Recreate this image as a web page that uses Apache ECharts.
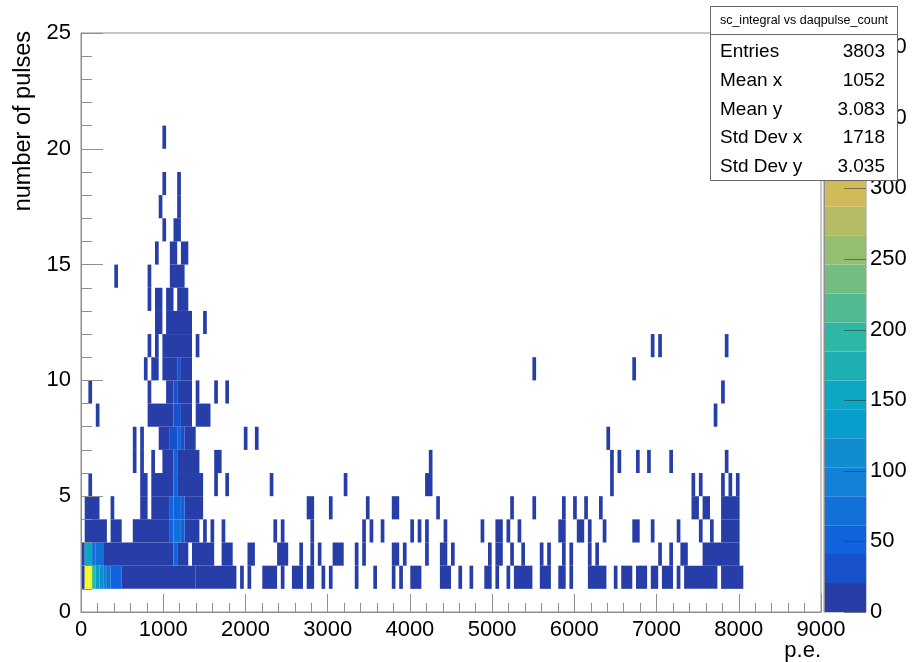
<!DOCTYPE html>
<html>
<head>
<meta charset="utf-8">
<script src="https://cdn.jsdelivr.net/npm/echarts@6/dist/echarts.min.js"></script>
<style>
  html, body { margin: 0; padding: 0; background: #fff; }
  #chart { width: 914px; height: 662px; }
</style>
</head>
<body>
<div id="chart"></div>
<script>
// 2D histogram: sc_integral (p.e.) vs daqpulse_count, drawn COLZ style.
const binWidth = 45;      // p.e. per x bin (0..9000, 200 bins)
const zMax = 410;         // highest bin content, top of the colour scale
const nContours = 20;

const xTickValues = [0, 1000, 2000, 3000, 4000, 5000, 6000, 7000, 8000, 9000];
const yTickValues = [0, 5, 10, 15, 20, 25];
const zTickValues = [0, 50, 100, 150, 200, 250, 300, 350, 400];

// Each row is one pulse count; entries are [firstBin, lastBin, entries per bin].
const row1 = [[0,0,12],[1,1,410],[2,2,398],[3,3,195],[4,4,140],[5,5,112],[6,6,90],[7,7,72],[8,10,50],
  [11,30,12],[31,41,4],[43,43,1],[45,45,1],[49,52,2],[54,54,1],[57,59,2],[61,62,2],[65,65,1],[67,67,1],
  [74,74,1],[79,79,1],[84,84,1],[86,86,1],[89,91,2],[97,99,2],[102,102,1],[105,105,1],[109,110,1],
  [112,112,1],[115,115,1],[117,121,2],[124,126,2],[129,130,1],[132,132,1],[137,141,2],[144,144,1],
  [146,148,2],[150,152,2],[154,155,1],[157,159,2],[161,161,1],[163,171,2],[173,178,3]];
const row2 = [[0,0,10],[1,2,160],[3,3,75],[4,5,62],[6,24,12],[25,25,50],[26,28,12],[30,35,6],[38,40,2],
  [45,46,2],[53,55,2],[59,59,1],[62,62,1],[64,64,1],[68,70,2],[74,74,1],[76,76,1],[84,85,2],[87,87,1],
  [93,93,1],[97,98,2],[100,100,1],[110,110,1],[112,113,1],[116,116,1],[119,119,1],[124,124,1],
  [126,126,1],[130,130,1],[132,132,1],[137,137,1],[139,139,1],[156,156,1],[159,159,1],[162,163,1],
  [168,177,3]];
const row3 = [[1,6,8],[8,10,6],[14,23,10],[24,24,45],[25,26,62],[27,27,45],[28,31,10],[33,33,2],
  [35,35,1],[38,38,1],[52,52,1],[54,54,1],[62,62,1],[76,76,1],[78,78,1],[81,81,1],[89,89,1],[91,91,1],
  [93,93,1],[98,98,1],[108,108,1],[112,113,1],[115,115,1],[118,118,1],[129,130,1],[134,135,1],
  [137,137,1],[141,141,1],[149,150,1],[154,154,1],[161,161,1],[167,167,1],[170,170,1],[173,177,3]];
const row4 = [[1,4,4],[8,8,1],[16,17,4],[19,23,10],[24,24,42],[25,26,60],[27,27,42],[28,32,8],
  [61,62,1],[67,67,1],[77,77,1],[84,85,1],[96,96,1],[116,116,1],[122,122,1],[130,130,1],[133,133,1],
  [136,136,1],[140,140,1],[165,166,1],[168,169,1],[173,177,2]];
const row5 = [[2,2,1],[16,17,3],[19,24,8],[25,25,45],[26,32,8],[36,36,1],[39,39,1],[51,51,1],[71,71,1],
  [93,94,1],[143,143,1],[165,165,1],[167,167,1],[173,173,1],[175,175,1],[177,177,1]];
const row6 = [[14,14,1],[16,16,1],[19,19,1],[22,24,6],[25,25,48],[26,31,6],[36,37,1],[94,94,1],
  [143,143,1],[145,145,1],[150,150,1],[153,153,1],[159,159,1],[174,174,1]];
const row7 = [[14,14,1],[16,16,1],[21,23,5],[24,25,35],[26,26,50],[27,27,35],[28,30,5],[44,44,1],
  [47,47,1],[142,142,1]];
const row8 = [[4,4,1],[18,24,5],[25,26,30],[27,29,5],[31,34,2],[171,171,1]];
const row9 = [[2,2,1],[18,18,1],[23,24,5],[25,25,28],[26,29,5],[31,31,1],[36,36,1],[39,39,1],[173,173,1]];
const row10 = [[17,17,1],[19,20,2],[22,25,5],[26,26,25],[27,29,5],[122,122,1],[149,149,1]];
const row11 = [[18,18,1],[20,20,1],[22,29,4],[31,31,1],[154,154,1],[156,156,1],[174,174,1]];
const row12 = [[20,21,2],[23,29,3],[33,33,1]];
const row13 = [[18,18,1],[20,21,1],[23,24,2],[26,28,2]];
const row14 = [[9,9,1],[18,18,1],[24,27,2]];
const row15 = [[20,20,1],[24,25,1],[27,28,1]];
const row16 = [[22,22,1],[25,26,1]];
const row17 = [[21,21,1],[26,26,1]];
const row18 = [[22,22,1],[26,26,1]];
const row20 = [[22,22,1]];

const rowsByPulses = [[1,row1],[2,row2],[3,row3],[4,row4],[5,row5],[6,row6],[7,row7],[8,row8],
  [9,row9],[10,row10],[11,row11],[12,row12],[13,row13],[14,row14],[15,row15],[16,row16],
  [17,row17],[18,row18],[20,row20]];

// Statistics box contents
const statsTitle = 'sc_integral vs daqpulse_count';
const statsNames = ['Entries', 'Mean x', 'Mean y', 'Std Dev x', 'Std Dev y'];
const statsValues = ['3803', '1052', '3.083', '1718', '3.035'];

// ---- palette (ROOT "bird") ----
const birdR = [0.2082, 0.0592, 0.0780, 0.0232, 0.1802, 0.5301, 0.8186, 0.9956, 0.9764];
const birdG = [0.1664, 0.3599, 0.5041, 0.6419, 0.7178, 0.7492, 0.7328, 0.7862, 0.9832];
const birdB = [0.5293, 0.8684, 0.8385, 0.7914, 0.6425, 0.4662, 0.3499, 0.1968, 0.0539];
function birdColor(f) {
  const s = Math.min(7, Math.floor(f * 8));
  const t = f * 8 - s;
  const c = (a) => Math.round(255 * (a[s] + (a[s + 1] - a[s]) * t));
  return 'rgb(' + c(birdR) + ',' + c(birdG) + ',' + c(birdB) + ')';
}
const contourColors = [];
for (let k = 0; k < nContours; k++) {
  const idx = Math.floor((k + 0.99) * 255 / nContours);
  contourColors.push(birdColor(Math.min(1, idx / 254)));
}
const step = zMax / nContours;
const pieces = contourColors.map((color, k) => (
  k === nContours - 1 ? { gte: k * step, lte: zMax + 1, color } : { gte: k * step, lt: (k + 1) * step, color }
));
const colorBands = contourColors.map((color, k) => [k * step, (k + 1) * step, k]);

// cells: [x start (p.e.), x end (p.e.), pulses, entries]
const cells = [];
rowsByPulses.forEach(([pulses, runs]) => {
  runs.forEach(([b0, b1, n]) => cells.push([b0 * binWidth, (b1 + 1) * binWidth, pulses, n]));
});

const FONT = '"Liberation Sans", Arial, Helvetica, sans-serif';
const lineGray = '#8f8f8f';

const chart = echarts.init(document.getElementById('chart'), null, { renderer: 'canvas' });

const statsGraphic = [
  { type: 'rect', shape: { x: 710.5, y: 6.5, width: 187, height: 174 },
    style: { fill: '#fff', stroke: '#666', lineWidth: 1 }, z: 100 },
  { type: 'line', shape: { x1: 710.5, y1: 34.5, x2: 897.5, y2: 34.5 },
    style: { stroke: '#666', lineWidth: 1 }, z: 101 },
  { type: 'text', x: 804, y: 21, z: 101,
    style: { text: statsTitle, font: '12.5px ' + FONT, fill: '#000', align: 'center', verticalAlign: 'middle' } }
];
statsNames.forEach((name, i) => {
  const y = 52 + i * 28.7;
  statsGraphic.push({ type: 'text', x: 720, y, z: 101,
    style: { text: name, font: '19px ' + FONT, fill: '#000', align: 'left', verticalAlign: 'middle' } });
  statsGraphic.push({ type: 'text', x: 885, y, z: 101,
    style: { text: statsValues[i], font: '19px ' + FONT, fill: '#000', align: 'right', verticalAlign: 'middle' } });
});

chart.setOption({
  animation: false,
  backgroundColor: '#fff',
  grid: [
    { left: 81, top: 33, width: 740, height: 579, show: true, borderColor: lineGray, borderWidth: 1, backgroundColor: '#fff' },
    { left: 824, top: 33, width: 42, height: 579, show: true, borderColor: lineGray, borderWidth: 1 }
  ],
  xAxis: [
    {
      gridIndex: 0, type: 'value', min: xTickValues[0], max: xTickValues[xTickValues.length - 1], interval: 1000, z: 5,
      axisLine: { show: true, lineStyle: { color: lineGray, width: 1 } },
      axisTick: { show: true, inside: true, length: 18, lineStyle: { color: lineGray } },
      minorTick: { show: true, splitNumber: 5, length: 9, lineStyle: { color: lineGray } },
      axisLabel: { fontFamily: FONT, fontSize: 22, color: '#000', margin: 7, formatter: (v) => String(v) },
      splitLine: { show: false }
    },
    { gridIndex: 1, type: 'value', min: 0, max: 1, show: false }
  ],
  yAxis: [
    {
      gridIndex: 0, type: 'value', min: yTickValues[0], max: yTickValues[yTickValues.length - 1], interval: 5, z: 5,
      axisLine: { show: true, lineStyle: { color: lineGray, width: 1 } },
      axisTick: { show: true, inside: true, length: 22, lineStyle: { color: lineGray } },
      minorTick: { show: true, splitNumber: 5, length: 11, lineStyle: { color: lineGray } },
      axisLabel: { fontFamily: FONT, fontSize: 22, color: '#000', margin: 10, formatter: (v) => String(v) },
      splitLine: { show: false }
    },
    {
      gridIndex: 1, type: 'value', position: 'right', min: 0, max: zMax, interval: 50, z: 5,
      axisLine: { show: true, lineStyle: { color: lineGray, width: 1 } },
      axisTick: { show: false },
      axisLabel: { fontFamily: FONT, fontSize: 22, color: '#000', margin: 4, showMaxLabel: false,
        formatter: (v) => (zTickValues.indexOf(v) >= 0 ? String(v) : '') },
      splitLine: { show: false }
    }
  ],
  visualMap: {
    type: 'piecewise', show: false, seriesIndex: 0, dimension: 3, pieces: pieces
  },
  series: [
    {
      type: 'custom', xAxisIndex: 0, yAxisIndex: 0, data: cells,
      encode: { x: [0, 1], y: 2 },
      renderItem: (params, api) => {
        const p0 = api.coord([api.value(0), api.value(2) + 1]);
        const p1 = api.coord([api.value(1), api.value(2)]);
        return { type: 'rect',
          shape: { x: p0[0], y: p0[1], width: p1[0] - p0[0], height: p1[1] - p0[1] },
          style: { fill: api.visual('color') } };
      }
    },
    {
      type: 'custom', xAxisIndex: 1, yAxisIndex: 1, data: colorBands,
      encode: { y: [0, 1] },
      renderItem: (params, api) => {
        const p0 = api.coord([0, api.value(1)]);
        const p1 = api.coord([1, api.value(0)]);
        return { type: 'rect',
          shape: { x: p0[0], y: p0[1], width: p1[0] - p0[0], height: p1[1] - p0[1] },
          style: { fill: contourColors[api.value(2)] } };
      }
    },
    {
      // tick marks of the colour scale, drawn inward from its right edge
      type: 'custom', xAxisIndex: 1, yAxisIndex: 1, z: 4, silent: true,
      data: zTickValues.map((v) => [v]),
      encode: { y: 0 },
      renderItem: (params, api) => {
        const p = api.coord([1, api.value(0)]);
        const y = Math.round(p[1]) + 0.5;
        return { type: 'line',
          shape: { x1: p[0] - 22, y1: y, x2: p[0], y2: y },
          style: { stroke: 'rgba(40,40,40,0.5)', lineWidth: 1 } };
      }
    }
  ],
  graphic: [
    { type: 'text', x: 24, y: 31, rotation: Math.PI / 2, z: 50,
      style: { text: 'number of pulses', font: '23.5px ' + FONT, fill: '#000', align: 'right', verticalAlign: 'middle' } },
    { type: 'text', x: 821, y: 651, z: 50,
      style: { text: 'p.e.', font: '22px ' + FONT, fill: '#000', align: 'right', verticalAlign: 'middle' } }
  ].concat(statsGraphic)
});
</script>
</body>
</html>
